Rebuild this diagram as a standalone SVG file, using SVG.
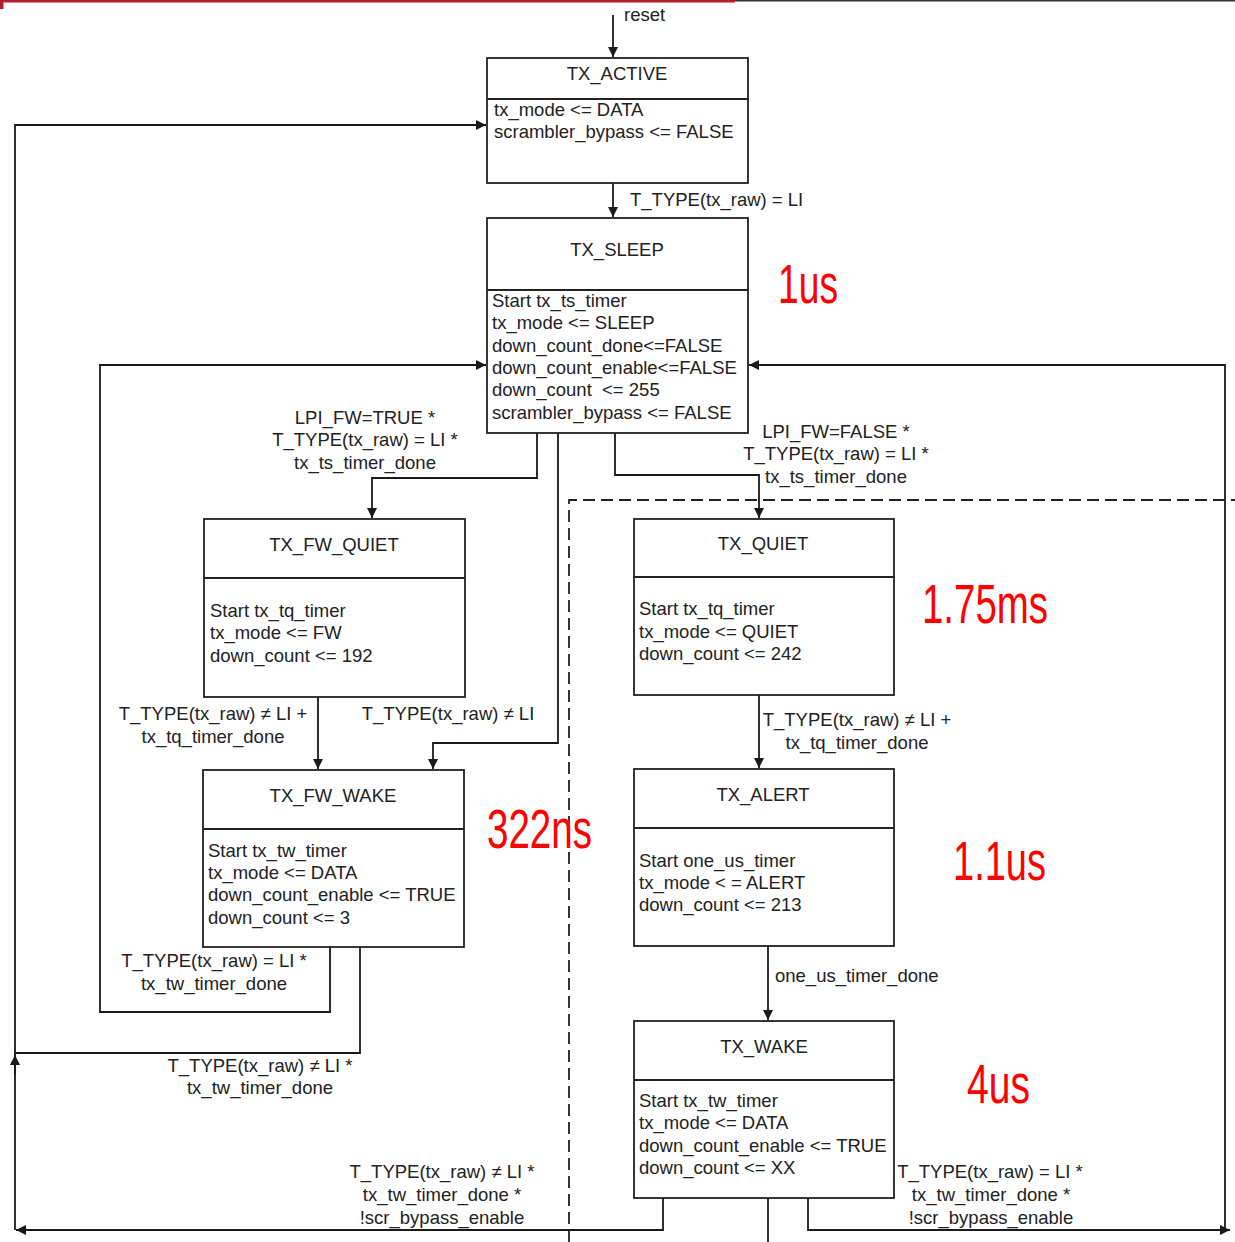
<svg xmlns="http://www.w3.org/2000/svg" width="1235" height="1242" viewBox="0 0 1235 1242">
<defs>
<marker id="ah" viewBox="0 0 10 10" refX="10" refY="5" markerWidth="10" markerHeight="10" markerUnits="userSpaceOnUse" orient="auto">
<path d="M0,0 L10,5 L0,10 z" fill="#1a1a1a"/>
</marker>
<style>
.box{fill:#fff;stroke:#222;stroke-width:1.8}
.div{stroke:#222;stroke-width:1.8}
.t{font-family:"Liberation Sans",Arial,sans-serif;font-size:18.5px;fill:#222}
.c{text-anchor:middle}
.ln{fill:none;stroke:#1a1a1a;stroke-width:1.8}
.dash{fill:none;stroke:#222;stroke-width:1.8;stroke-dasharray:12 6}
.red{font-family:"Liberation Sans",Arial,sans-serif;font-size:56px;fill:#ff0000}
</style>
</defs>
<rect width="1235" height="1242" fill="#fff"/>
<g id="topbar">
<rect x="0" y="0" width="735" height="2.5" fill="#b22028"/>
<rect x="735" y="0" width="500" height="1.5" fill="#333"/>
<rect x="0" y="0" width="3.5" height="9" fill="#b22028"/>
</g>
<path class="dash" d="M569,1242 V500 H1235"/>
<g id="connectors">
<path class="ln" d="M613,15 V57" marker-end="url(#ah)"/>
<path class="ln" d="M613,183 V217" marker-end="url(#ah)"/>
<path class="ln" d="M537,433 V478 H372 V518" marker-end="url(#ah)"/>
<path class="ln" d="M558,433 V743 H433 V769" marker-end="url(#ah)"/>
<path class="ln" d="M615,433 V475 H759 V518" marker-end="url(#ah)"/>
<path class="ln" d="M318,697 V769" marker-end="url(#ah)"/>
<path class="ln" d="M330,947 V1012 H100 V365 H486" marker-end="url(#ah)"/>
<path class="ln" d="M360,947 V1053 H15 V125 H486" marker-end="url(#ah)"/>
<path class="ln" d="M663,1198 V1230 H16" marker-end="url(#ah)"/>
<path class="ln" d="M15,1230 V1053"/>
<path class="ln" d="M15,1075 V1055" marker-end="url(#ah)"/>
<path class="ln" d="M759,695 V768" marker-end="url(#ah)"/>
<path class="ln" d="M768,946 V1020" marker-end="url(#ah)"/>
<path class="ln" d="M768,1198 V1242"/>
<path class="ln" d="M808,1198 V1230 H1230" marker-end="url(#ah)"/>
<path class="ln" d="M1225,1230 V365 H749" marker-end="url(#ah)"/>
</g>
<g id="labels">
<text class="t" x="624" y="21">reset</text>
<text class="t" x="630" y="206">T_TYPE(tx_raw) = LI</text>
<text class="t c" x="365" y="424">LPI_FW=TRUE *</text>
<text class="t c" x="365" y="446">T_TYPE(tx_raw) = LI *</text>
<text class="t c" x="365" y="469">tx_ts_timer_done</text>
<text class="t c" x="836" y="438">LPI_FW=FALSE *</text>
<text class="t c" x="836" y="460">T_TYPE(tx_raw) = LI *</text>
<text class="t c" x="836" y="483">tx_ts_timer_done</text>
<text class="t c" x="213" y="720">T_TYPE(tx_raw) ≠ LI +</text>
<text class="t c" x="213" y="743">tx_tq_timer_done</text>
<text class="t c" x="448" y="720">T_TYPE(tx_raw) ≠ LI</text>
<text class="t c" x="857" y="726">T_TYPE(tx_raw) ≠ LI +</text>
<text class="t c" x="857" y="749">tx_tq_timer_done</text>
<text class="t" x="775" y="982">one_us_timer_done</text>
<text class="t c" x="214" y="967">T_TYPE(tx_raw) = LI *</text>
<text class="t c" x="214" y="990">tx_tw_timer_done</text>
<text class="t c" x="260" y="1072">T_TYPE(tx_raw) ≠ LI *</text>
<text class="t c" x="260" y="1094">tx_tw_timer_done</text>
<text class="t c" x="442" y="1178">T_TYPE(tx_raw) ≠ LI *</text>
<text class="t c" x="442" y="1201">tx_tw_timer_done *</text>
<text class="t c" x="442" y="1224">!scr_bypass_enable</text>
<text class="t c" x="990" y="1178">T_TYPE(tx_raw) = LI *</text>
<text class="t c" x="991" y="1201">tx_tw_timer_done *</text>
<text class="t c" x="991" y="1224">!scr_bypass_enable</text>
</g>
<g id="TX_ACTIVE">
<rect class="box" x="487" y="58" width="261" height="125"/>
<line class="div" x1="487" y1="99" x2="748" y2="99"/>
<text class="t c" x="617" y="80">TX_ACTIVE</text>
<text class="t" x="494" y="116">tx_mode &lt;= DATA</text>
<text class="t" x="494" y="138">scrambler_bypass &lt;= FALSE</text>
</g>
<g id="TX_SLEEP">
<rect class="box" x="487" y="218" width="261" height="215"/>
<line class="div" x1="487" y1="290" x2="748" y2="290"/>
<text class="t c" x="617" y="256">TX_SLEEP</text>
<text class="t" x="492" y="307">Start tx_ts_timer</text>
<text class="t" x="492" y="329">tx_mode &lt;= SLEEP</text>
<text class="t" x="492" y="352">down_count_done&lt;=FALSE</text>
<text class="t" x="492" y="374">down_count_enable&lt;=FALSE</text>
<text class="t" x="492" y="396" xml:space="preserve">down_count  &lt;= 255</text>
<text class="t" x="492" y="419">scrambler_bypass &lt;= FALSE</text>
</g>
<g id="TX_FW_QUIET">
<rect class="box" x="204" y="519" width="261" height="178"/>
<line class="div" x1="204" y1="578" x2="465" y2="578"/>
<text class="t c" x="334" y="551">TX_FW_QUIET</text>
<text class="t" x="210" y="617">Start tx_tq_timer</text>
<text class="t" x="210" y="639">tx_mode &lt;= FW</text>
<text class="t" x="210" y="662">down_count &lt;= 192</text>
</g>
<g id="TX_FW_WAKE">
<rect class="box" x="203" y="770" width="261" height="177"/>
<line class="div" x1="203" y1="829" x2="464" y2="829"/>
<text class="t c" x="333" y="802">TX_FW_WAKE</text>
<text class="t" x="208" y="857">Start tx_tw_timer</text>
<text class="t" x="208" y="879">tx_mode &lt;= DATA</text>
<text class="t" x="208" y="901">down_count_enable &lt;= TRUE</text>
<text class="t" x="208" y="924">down_count &lt;= 3</text>
</g>
<g id="TX_QUIET">
<rect class="box" x="634" y="519" width="260" height="176"/>
<line class="div" x1="634" y1="577" x2="894" y2="577"/>
<text class="t c" x="763" y="550">TX_QUIET</text>
<text class="t" x="639" y="615">Start tx_tq_timer</text>
<text class="t" x="639" y="638">tx_mode &lt;= QUIET</text>
<text class="t" x="639" y="660">down_count &lt;= 242</text>
</g>
<g id="TX_ALERT">
<rect class="box" x="634" y="769" width="260" height="177"/>
<line class="div" x1="634" y1="828" x2="894" y2="828"/>
<text class="t c" x="763" y="801">TX_ALERT</text>
<text class="t" x="639" y="867">Start one_us_timer</text>
<text class="t" x="639" y="889">tx_mode &lt; = ALERT</text>
<text class="t" x="639" y="911">down_count &lt;= 213</text>
</g>
<g id="TX_WAKE">
<rect class="box" x="634" y="1021" width="260" height="177"/>
<line class="div" x1="634" y1="1080" x2="894" y2="1080"/>
<text class="t c" x="764" y="1053">TX_WAKE</text>
<text class="t" x="639" y="1107">Start tx_tw_timer</text>
<text class="t" x="639" y="1129">tx_mode &lt;= DATA</text>
<text class="t" x="639" y="1152">down_count_enable &lt;= TRUE</text>
<text class="t" x="639" y="1174">down_count &lt;= XX</text>
</g>
<g id="timings">
<text class="red" x="778" y="303" textLength="60" lengthAdjust="spacingAndGlyphs">1us</text>
<text class="red" x="922" y="623" textLength="126" lengthAdjust="spacingAndGlyphs">1.75ms</text>
<text class="red" x="487" y="848" textLength="105" lengthAdjust="spacingAndGlyphs">322ns</text>
<text class="red" x="953" y="880" textLength="93" lengthAdjust="spacingAndGlyphs">1.1us</text>
<text class="red" x="967" y="1103" textLength="63" lengthAdjust="spacingAndGlyphs">4us</text>
</g>
</svg>
